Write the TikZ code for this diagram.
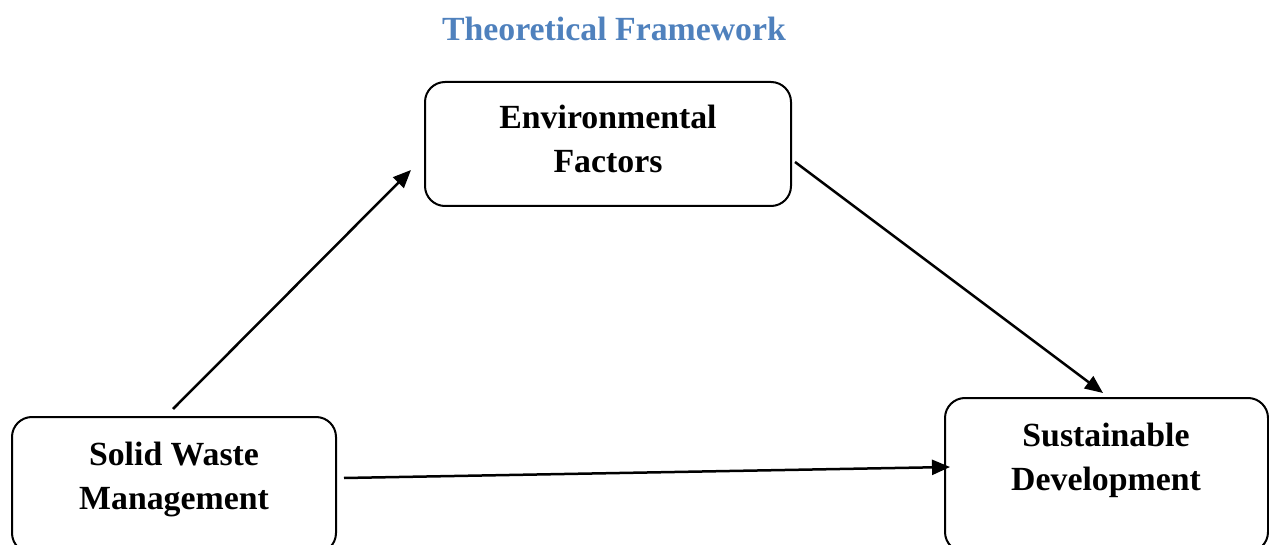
\documentclass[tikz,border=0pt]{standalone}
\usepackage{fontspec}
\setmainfont{Liberation Serif}
\usetikzlibrary{arrows.meta}
\definecolor{titleblue}{HTML}{4F81BD}
\begin{document}
\begin{tikzpicture}[x=1pt,y=-1pt,
  box/.style={draw=black, line width=2pt, rounded corners=20pt, inner sep=0pt},
  lbl/.style={anchor=base, inner sep=0pt, font=\fontsize{33.8}{44}\selectfont\bfseries},
  link/.style={line width=2.5pt, -{Triangle[length=18pt,width=15pt]}}]
\useasboundingbox (0,0) rectangle (1269,545);

% title
\node[lbl, text=titleblue] (title) at (614,41) {Theoretical Framework};

% boxes
\node[box, minimum width=366pt, minimum height=124pt] (env) at (608,144) {};
\node[box, minimum width=324pt, minimum height=136pt] (swm) at (174,485) {};
\node[box, minimum width=323pt, minimum height=154pt] (sd) at (1106.5,475) {};

% box labels
\node[lbl] (env1) at (608,129) {Environmental};
\node[lbl] (env2) at (608,173) {Factors};
\node[lbl] (swm1) at (174,465) {Solid Waste};
\node[lbl] (swm2) at (174,509) {Management};
\node[lbl] (sd1) at (1106,446) {Sustainable};
\node[lbl] (sd2) at (1106,490) {Development};

% arrow ends, set off from the boxes
\coordinate (swmout) at (173,409);
\coordinate (envin) at (411,170);
\coordinate (envout) at (795,162);
\coordinate (sdintop) at (1103,393);
\coordinate (swmright) at (344,478);
\coordinate (sdleft) at (950,467);

\draw[link] (swmout) -- (envin);
\draw[link] (envout) -- (sdintop);
\draw[link] (swmright) -- (sdleft);
\end{tikzpicture}
\end{document}
